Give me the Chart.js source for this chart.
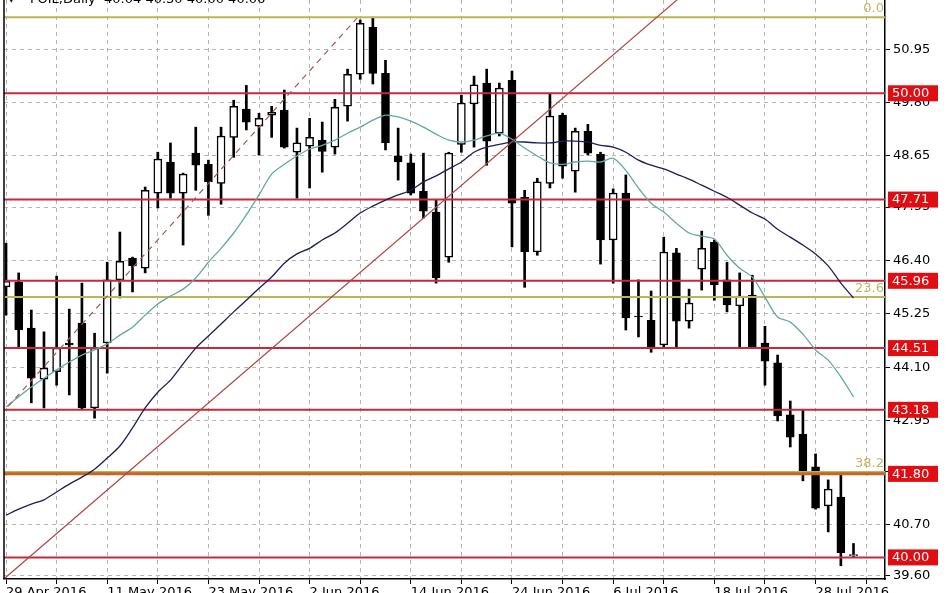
<!DOCTYPE html>
<html>
<head>
<meta charset="utf-8">
<script src="https://cdn.jsdelivr.net/npm/chart.js@4.4.0/dist/chart.umd.min.js"></script>
<style>
    html, body { margin: 0; padding: 0; background: #fff; overflow: hidden; }
    #chart { display: block; }
</style>
</head>
<body>
<canvas id="chart" width="948" height="593"></canvas>
<script>
// Daily candles, one per trading day (index 0 = 29 Apr 2016)
const opens  = [45.83, 45.93, 44.94, 43.84, 44.00, 44.62, 45.05, 43.22, 44.62, 45.98,
                46.45, 46.23, 47.85, 48.52, 47.85, 48.71, 48.47, 48.06, 49.05, 49.66,
                49.29, 49.53, 49.64, 48.73, 48.86, 48.99, 48.84, 49.72, 50.41, 51.42,
                50.43, 48.65, 48.50, 47.89, 47.44, 46.47, 48.90, 49.77, 50.22, 49.14,
                50.28, 47.76, 46.58, 48.06, 49.53, 48.32, 49.18, 48.69, 46.84, 47.85,
                45.20, 45.11, 44.58, 46.56, 45.09, 46.21, 46.79, 45.98, 45.42, 45.65,
                44.62, 44.19, 43.07, 42.66, 41.95, 41.11, 41.30, 40.04];
const highs  = [46.77, 46.13, 45.33, 44.86, 46.06, 45.35, 45.91, 44.83, 46.36, 47.01,
                46.47, 47.98, 48.73, 48.93, 48.28, 49.27, 48.56, 49.27, 49.85, 50.17,
                49.57, 49.72, 50.07, 49.25, 49.46, 49.38, 49.87, 50.52, 51.58, 51.64,
                50.71, 49.25, 48.69, 48.71, 47.70, 48.73, 49.96, 50.37, 50.52, 50.22,
                50.48, 47.91, 48.17, 49.98, 49.57, 49.25, 49.33, 48.73, 47.94, 48.24,
                45.98, 45.74, 46.90, 46.66, 45.78, 47.03, 46.84, 46.36, 46.13, 46.08,
                44.98, 44.36, 43.37, 43.18, 42.23, 41.67, 41.82, 40.30];
const lows   = [45.22, 44.53, 43.33, 43.22, 43.71, 43.50, 43.18, 43.00, 43.97, 45.59,
                45.72, 46.13, 47.53, 47.74, 46.73, 47.91, 47.37, 47.61, 48.62, 49.21,
                48.67, 49.05, 48.82, 47.74, 47.96, 48.30, 48.69, 49.40, 50.30, 50.20,
                48.78, 48.13, 47.81, 47.31, 45.91, 46.36, 48.73, 48.84, 48.45, 49.08,
                46.69, 45.82, 46.51, 47.96, 48.17, 47.87, 48.67, 46.32, 45.91, 44.90,
                44.75, 44.42, 44.53, 44.53, 44.94, 45.76, 45.54, 45.29, 44.53, 44.51,
                43.71, 42.94, 42.38, 41.65, 41.04, 40.55, 39.82, 40.00];
const closes = [45.95, 44.90, 43.86, 44.08, 44.51, 44.58, 43.22, 44.51, 45.98, 46.38,
                46.28, 47.91, 48.58, 47.85, 48.26, 48.45, 48.09, 49.08, 49.72, 49.38,
                49.46, 49.59, 48.84, 48.93, 49.05, 48.75, 49.70, 50.41, 51.51, 50.43,
                48.93, 48.52, 47.85, 47.46, 46.02, 48.71, 49.79, 50.18, 48.97, 50.11,
                47.63, 46.58, 48.09, 49.51, 48.43, 49.18, 48.71, 46.84, 47.85, 45.16,
                45.18, 44.53, 46.58, 45.09, 45.48, 46.66, 45.87, 45.44, 45.63, 44.53,
                44.23, 43.05, 42.59, 41.86, 41.06, 41.47, 40.10, 40.06];

// Moving averages
const maFast = [43.24, 43.46, 43.67, 43.86, 44.04, 44.21, 44.36, 44.47, 44.60, 44.79,
                44.96, 45.22, 45.46, 45.63, 45.78, 46.02, 46.36, 46.66, 46.99, 47.38,
                47.81, 48.26, 48.47, 48.65, 48.80, 48.88, 48.99, 49.14, 49.27, 49.42,
                49.53, 49.49, 49.40, 49.27, 49.12, 48.99, 48.95, 48.99, 49.08, 49.14,
                49.01, 48.82, 48.65, 48.50, 48.47, 48.52, 48.54, 48.52, 48.60, 48.34,
                47.96, 47.63, 47.44, 47.20, 46.99, 46.92, 46.86, 46.51, 46.23, 46.04,
                45.61, 45.18, 45.07, 44.81, 44.47, 44.25, 43.89, 43.46];
const maSlow = [40.91, 41.04, 41.15, 41.24, 41.41, 41.58, 41.73, 41.90, 42.14, 42.40,
                42.79, 43.22, 43.56, 43.82, 44.17, 44.51, 44.77, 45.03, 45.29, 45.54,
                45.80, 46.04, 46.34, 46.54, 46.66, 46.84, 46.99, 47.20, 47.42, 47.57,
                47.70, 47.81, 47.91, 48.09, 48.22, 48.37, 48.52, 48.73, 48.84, 48.90,
                48.95, 48.95, 48.93, 48.93, 48.97, 48.97, 48.95, 48.88, 48.84, 48.73,
                48.56, 48.45, 48.37, 48.26, 48.15, 48.02, 47.89, 47.76, 47.59, 47.42,
                47.29, 47.07, 46.90, 46.73, 46.54, 46.28, 45.91, 45.59];

// Horizontal support / resistance levels
const levels = [50.00, 47.71, 45.96, 44.51, 43.18, 41.80, 40.00];

// Fibonacci retracement levels
const fibNames  = ['0.0', '23.6', '38.2'];
const fibPrices = [51.64, 45.61, 41.84];

// Trend line and fib base line (bar index, price)
const trendLine = [[-1, 39.34], [55, 52.47]];
const fibLine   = [[-1, 42.90], [27.75, 51.62]];

// Axis labels
const dateLabels = ['29 Apr 2016', '11 May 2016', '23 May 2016', '2 Jun 2016', '14 Jun 2016',
                    '24 Jun 2016', '6 Jul 2016', '18 Jul 2016', '28 Jul 2016'];
const dateIdx    = [0, 8, 16, 24, 32, 40, 48, 56, 64];
const gridIdx    = [0, 4, 8, 12, 16, 20, 24, 28, 32, 36, 40, 44, 48, 52, 56, 60, 64, 68];
const priceTicks = [39.60, 40.70, 41.85, 42.95, 44.10, 45.25, 46.40, 47.55, 48.65, 49.80, 50.95];

const titleMark = '\u25BE';
const titleText = 'FOIL,Daily  40.04 40.30 40.00 40.06';

// Colours
const RED = '#c42a3c';
const ORANGE = '#c8642a';
const FIB = '#bdb456';
const FONT = '13px "DejaVu Sans", sans-serif';

const bars = opens.map((o, i) => i);

// Overlay: left border, price boxes, fib captions, title
const overlay = {
    id: 'overlay',
    afterDraw(chart) {
        const ctx = chart.ctx;
        const area = chart.chartArea;
        const y = chart.scales.y;

        ctx.save();
        ctx.strokeStyle = '#000';
        ctx.lineWidth = 1.5;
        ctx.beginPath();
        ctx.moveTo(area.left, area.top);
        ctx.lineTo(area.left, area.bottom);
        ctx.stroke();

        ctx.font = FONT;
        ctx.textBaseline = 'middle';
        levels.forEach(function(p) {
            const py = y.getPixelForValue(p);
            ctx.fillStyle = '#e00d12';
            ctx.fillRect(area.right + 3, py - 8, 50, 16);
            ctx.fillStyle = '#fff';
            ctx.textAlign = 'left';
            ctx.fillText(p.toFixed(2), area.right + 7, py + 0.5);
        });

        ctx.fillStyle = '#c4b460';
        ctx.textAlign = 'right';
        ctx.textBaseline = 'bottom';
        fibPrices.forEach(function(p, i) {
            ctx.fillText(fibNames[i], area.right - 1, y.getPixelForValue(p) - 2);
        });

        ctx.fillStyle = '#000';
        ctx.textAlign = 'left';
        ctx.textBaseline = 'alphabetic';
        ctx.fillText(titleMark, 8, 3);
        ctx.fillText(titleText, 30, 3);
        ctx.restore();
    }
};

const datasets = [];

// Candle wicks
datasets.push({
    type: 'bar',
    data: bars.map(i => ({ x: i, y: [lows[i], highs[i]] })),
    backgroundColor: '#000',
    barThickness: 2,
    grouped: false,
    order: 6
});

// Candle bodies
datasets.push({
    type: 'bar',
    data: bars.map(i => ({ x: i, y: [opens[i], closes[i]] })),
    backgroundColor: bars.map(i => closes[i] >= opens[i] ? '#fff' : '#000'),
    borderColor: '#000',
    borderWidth: 1.5,
    borderSkipped: false,
    barThickness: 8,
    grouped: false,
    order: 5
});

// Moving averages
datasets.push({
    type: 'line',
    data: bars.map(i => ({ x: i, y: maFast[i] })),
    borderColor: '#5faaa4',
    borderWidth: 1.3,
    pointRadius: 0,
    tension: 0.3,
    order: 2
});
datasets.push({
    type: 'line',
    data: bars.map(i => ({ x: i, y: maSlow[i] })),
    borderColor: '#1e1e5a',
    borderWidth: 1.3,
    pointRadius: 0,
    tension: 0.3,
    order: 2
});

// Fib horizontal levels
fibPrices.forEach(function(p) {
    datasets.push({
        type: 'line',
        data: [{ x: -1, y: p }, { x: 71, y: p }],
        borderColor: FIB,
        borderWidth: 2,
        pointRadius: 0,
        order: 4
    });
});

// Support / resistance lines
levels.forEach(function(p) {
    datasets.push({
        type: 'line',
        data: [{ x: -1, y: p }, { x: 71, y: p }],
        borderColor: p === 41.80 ? ORANGE : RED,
        borderWidth: p === 41.80 ? 3 : 2,
        pointRadius: 0,
        order: 3
    });
});

// Trend line
datasets.push({
    type: 'line',
    data: trendLine.map(d => ({ x: d[0], y: d[1] })),
    borderColor: '#b04848',
    borderWidth: 1.2,
    pointRadius: 0,
    order: 1
});

// Fib base (dashed)
datasets.push({
    type: 'line',
    data: fibLine.map(d => ({ x: d[0], y: d[1] })),
    borderColor: '#a85858',
    borderWidth: 1.2,
    borderDash: [6, 5],
    pointRadius: 0,
    order: 1
});

new Chart(document.getElementById('chart'), {
    type: 'bar',
    data: { datasets: datasets },
    options: {
        responsive: false,
        devicePixelRatio: 1,
        animation: false,
        layout: { padding: { left: 4, top: 0, right: 0, bottom: 0 } },
        plugins: {
            legend: { display: false },
            tooltip: { enabled: false }
        },
        scales: {
            x: {
                type: 'linear',
                min: -0.16,
                max: 69.49,
                offset: false,
                afterBuildTicks: s => { s.ticks = gridIdx.map(v => ({ value: v })); },
                afterFit: s => { s.height = 14; s.paddingLeft = 0; s.paddingRight = 0; },
                grid: {
                    offset: false,
                    color: '#b4b4b4',
                    lineWidth: 1,
                    tickLength: 5,
                    tickColor: '#000',
                    tickBorderDash: []
                },
                border: { display: true, color: '#000', width: 1.5, dash: [4, 4] },
                ticks: {
                    autoSkip: false,
                    maxRotation: 0,
                    align: 'start',
                    padding: 1,
                    color: '#000',
                    font: { family: '"DejaVu Sans", sans-serif', size: 13 },
                    callback: v => {
                        const k = dateIdx.indexOf(v);
                        return k >= 0 ? dateLabels[k] : '';
                    }
                }
            },
            y: {
                type: 'linear',
                position: 'right',
                min: 39.535,
                max: 52.01,
                beginAtZero: false,
                afterBuildTicks: s => { s.ticks = priceTicks.map(v => ({ value: v })); },
                afterFit: s => { s.width = 63; s.paddingTop = 0; s.paddingBottom = 0; },
                grid: {
                    color: '#b4b4b4',
                    lineWidth: 1,
                    tickLength: 5,
                    tickColor: '#000',
                    tickBorderDash: []
                },
                border: { display: true, color: '#000', width: 1.5, dash: [4, 4] },
                ticks: {
                    padding: 3,
                    color: '#000',
                    font: { family: '"DejaVu Sans", sans-serif', size: 13 },
                    callback: v => v.toFixed(2)
                }
            }
        }
    },
    plugins: [overlay]
});
</script>
</body>
</html>
